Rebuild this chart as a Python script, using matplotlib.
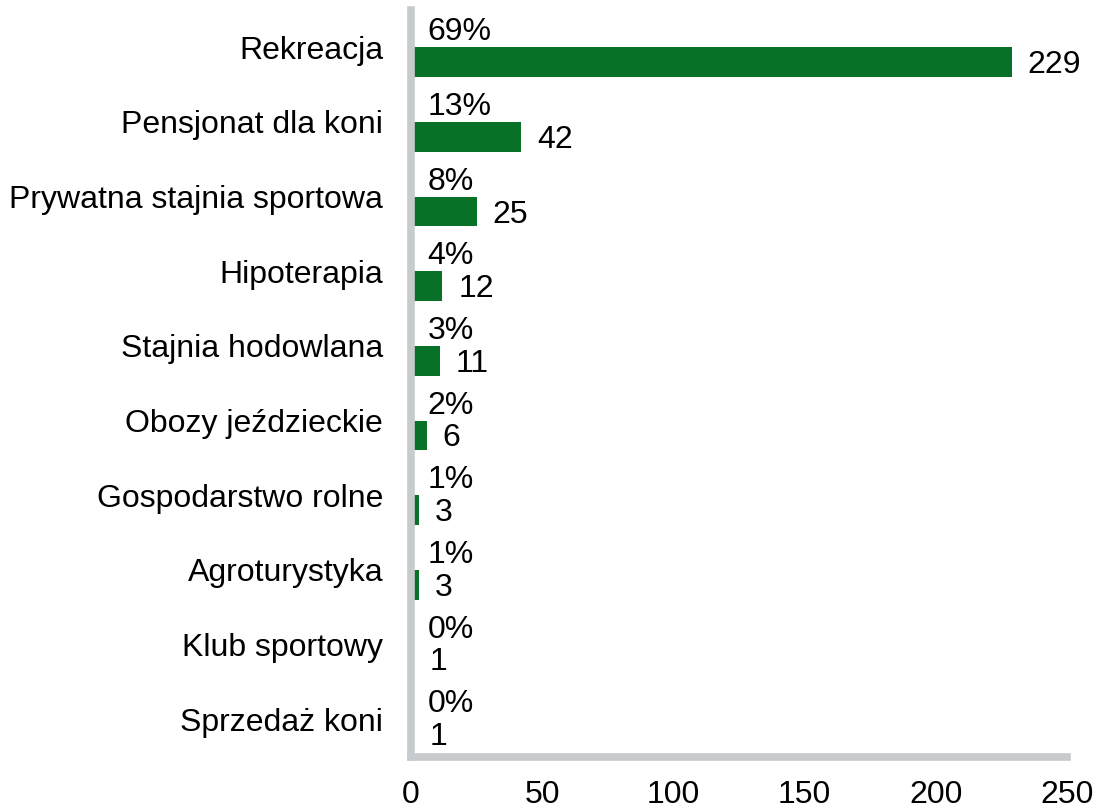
import matplotlib
matplotlib.use("Agg")
import matplotlib.pyplot as plt

plt.rcParams['font.family'] = ['Liberation Sans', 'DejaVu Sans']

# dane
kategorie = ["Rekreacja", "Pensjonat dla koni", "Prywatna stajnia sportowa",
             "Hipoterapia", "Stajnia hodowlana", "Obozy jeździeckie",
             "Gospodarstwo rolne", "Agroturystyka", "Klub sportowy",
             "Sprzedaż koni"]
liczby = [229, 42, 25, 12, 11, 6, 3, 3, 1, 1]
procenty = ["69%", "13%", "8%", "4%", "3%", "2%", "1%", "1%", "0%", "0%"]
xticks = [0, 50, 100, 150, 200, 250]

zielony = "#077128"
szary = "#c8cbcd"
fs = 23

fig = plt.figure(figsize=(10.96, 8.09), dpi=100)
ax = fig.add_axes([411/1096, 1 - 756.5/809, (1067-411)/1096, (756.5-10)/809])

y = list(range(len(kategorie)))
ax.barh([i + 0.2 for i in y], liczby, height=0.4, color=zielony, zorder=1)

for i in y:
    ax.annotate(procenty[i], (0, i - 0.2), xytext=(12, 0), textcoords="offset points",
                ha="left", va="center", fontsize=fs)
    ax.annotate(str(liczby[i]), (liczby[i], i + 0.24), xytext=(11.5, 0), textcoords="offset points",
                ha="left", va="center", fontsize=fs)

ax.set_xlim(0, 250)
ax.set_ylim(len(kategorie) - 0.5, -0.5)
ax.set_yticks(y)
ax.set_yticklabels(kategorie, fontsize=fs)
ax.set_xticks(xticks)
ax.set_xticklabels([str(t) for t in xticks], fontsize=fs)
ax.tick_params(axis="both", length=0)
ax.tick_params(axis="y", pad=20)
ax.tick_params(axis="x", pad=17)

for s in ["top", "right"]:
    ax.spines[s].set_visible(False)
for s in ["left", "bottom"]:
    ax.spines[s].set_color(szary)
    ax.spines[s].set_linewidth(5.5)
    ax.spines[s].set_zorder(3)

fig.savefig("out.png", dpi=100)
